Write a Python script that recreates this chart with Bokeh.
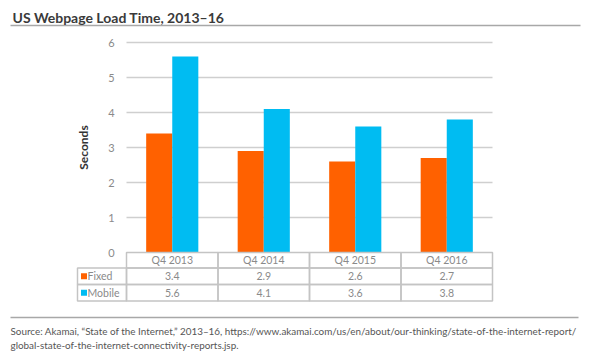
from bokeh.plotting import figure
from bokeh.models import Range1d, Label
from bokeh.core.properties import value
from bokeh.embed import file_html
from bokeh.resources import INLINE

# ---- data ----
categories = ["Q4 2013", "Q4 2014", "Q4 2015", "Q4 2016"]
fixed = [3.4, 2.9, 2.6, 2.7]
mobile = [5.6, 4.1, 3.6, 3.8]
series_names = ["Fixed", "Mobile"]
y_ticks = [0, 1, 2, 3, 4, 5, 6]
title_text = "US Webpage Load Time, 2013\u201316"
y_label = "Seconds"
source_lines = [
    "Source: Akamai, \u201cState of the Internet,\u201d 2013\u201316, https://www.akamai.com/us/en/about/our-thinking/state-of-the-internet-report/",
    "global-state-of-the-internet-connectivity-reports.jsp.",
]

# ---- layout (pixels) ----
W, H = 590, 354
X0 = 126          # left of plot area
CW = 91.5         # category width
Y0 = 252          # pixel of value 0
PU = 35           # pixels per unit
FONT = "Lato"
ORANGE = "#FF6100"
BLUE = "#00BCF2"
GRID = "#cfcfcf"
TXT = "#8a8a8a"

def px_x(px):
    return (px - X0) / CW

def px_y(py):
    return (Y0 - py) / PU

p = figure(width=W, height=H, x_range=Range1d(px_x(0), px_x(W)),
           y_range=Range1d(px_y(H), px_y(0)), min_border=0,
           toolbar_location=None, output_backend="svg",
           x_axis_location=None, y_axis_location=None)
p.grid.visible = False
p.outline_line_color = None
p.background_fill_color = "white"

n = len(categories)
bw = 0.285
centers = [i + 0.5 for i in range(n)]

# gridlines
p.segment(x0=[0] * (len(y_ticks) - 1), x1=[n] * (len(y_ticks) - 1),
          y0=y_ticks[1:], y1=y_ticks[1:], line_color=GRID, line_width=1.5)

# bars
p.vbar(x=[c - bw / 2 for c in centers], top=fixed, bottom=0, width=bw,
       fill_color=ORANGE, line_color=None)
p.vbar(x=[c + bw / 2 for c in centers], top=mobile, bottom=0, width=bw,
       fill_color=BLUE, line_color=None)

# y tick labels
p.text(x=[px_x(111)] * len(y_ticks), y=y_ticks, text=[str(t) for t in y_ticks],
       text_font=value(FONT), text_font_size="11px", text_color=TXT,
       text_align="center", text_baseline="middle")

# y axis title
p.text(x=[px_x(83)], y=[3], text=[y_label], angle=1.5708,
       text_font=value(FONT), text_font_size="12px", text_font_style="bold",
       text_color="#333333", text_align="center", text_baseline="middle")

# ---- data table ----
r_edges = [0, px_y(267.5), px_y(284), px_y(300.5)]
p.quad(left=list(range(n)), right=[i + 1 for i in range(n)],
       top=[r_edges[0]] * n, bottom=[r_edges[1]] * n,
       fill_color=None, line_color="#c4c4c4", line_width=1.5)
p.text(x=centers, y=[(r_edges[0] + r_edges[1]) / 2] * n, text=categories,
       text_font=value(FONT), text_font_size="10.5px", text_color=TXT,
       text_align="center", text_baseline="middle")
leg_left = px_x(77)
for k, (vals, name, col) in enumerate([(fixed, series_names[0], ORANGE),
                                        (mobile, series_names[1], BLUE)]):
    top, bot = r_edges[k + 1], r_edges[k + 2]
    mid = (top + bot) / 2
    p.quad(left=[leg_left] + list(range(n)), right=[0] + [i + 1 for i in range(n)],
           top=[top] * (n + 1), bottom=[bot] * (n + 1),
           fill_color=None, line_color="#c4c4c4", line_width=1.5)
    p.text(x=centers, y=[mid] * n, text=[f"{v:.1f}" for v in vals],
           text_font=value(FONT), text_font_size="10.5px", text_color=TXT,
           text_align="center", text_baseline="middle")
    p.scatter(x=[px_x(83.5)], y=[mid], marker="square", size=6,
              fill_color=col, line_color=None)
    p.text(x=[px_x(87)], y=[mid], text=[name],
           text_font=value(FONT), text_font_size="10.5px", text_color=TXT,
           text_align="left", text_baseline="middle")

# ---- title, rules, source ----
p.add_layout(Label(x=12, y=H - 17, x_units="screen", y_units="screen",
                   text=title_text, text_font=FONT, text_font_size="14px",
                   text_font_style="bold", text_color="#3a3a3a",
                   text_baseline="alphabetic"))
p.segment(x0=[px_x(10), px_x(10)], x1=[px_x(580), px_x(578)],
          y0=[px_y(25), px_y(317)], y1=[px_y(25), px_y(317)],
          line_color="#a8a8a8", line_width=1.5)
for i, line in enumerate(source_lines):
    p.add_layout(Label(x=10, y=H - (330 + 14 * i), x_units="screen", y_units="screen",
                       text=line, text_font=FONT, text_font_size="9.9px",
                       text_color="#555555", text_baseline="alphabetic"))

open("out.html", "w").write(file_html(p, INLINE))
